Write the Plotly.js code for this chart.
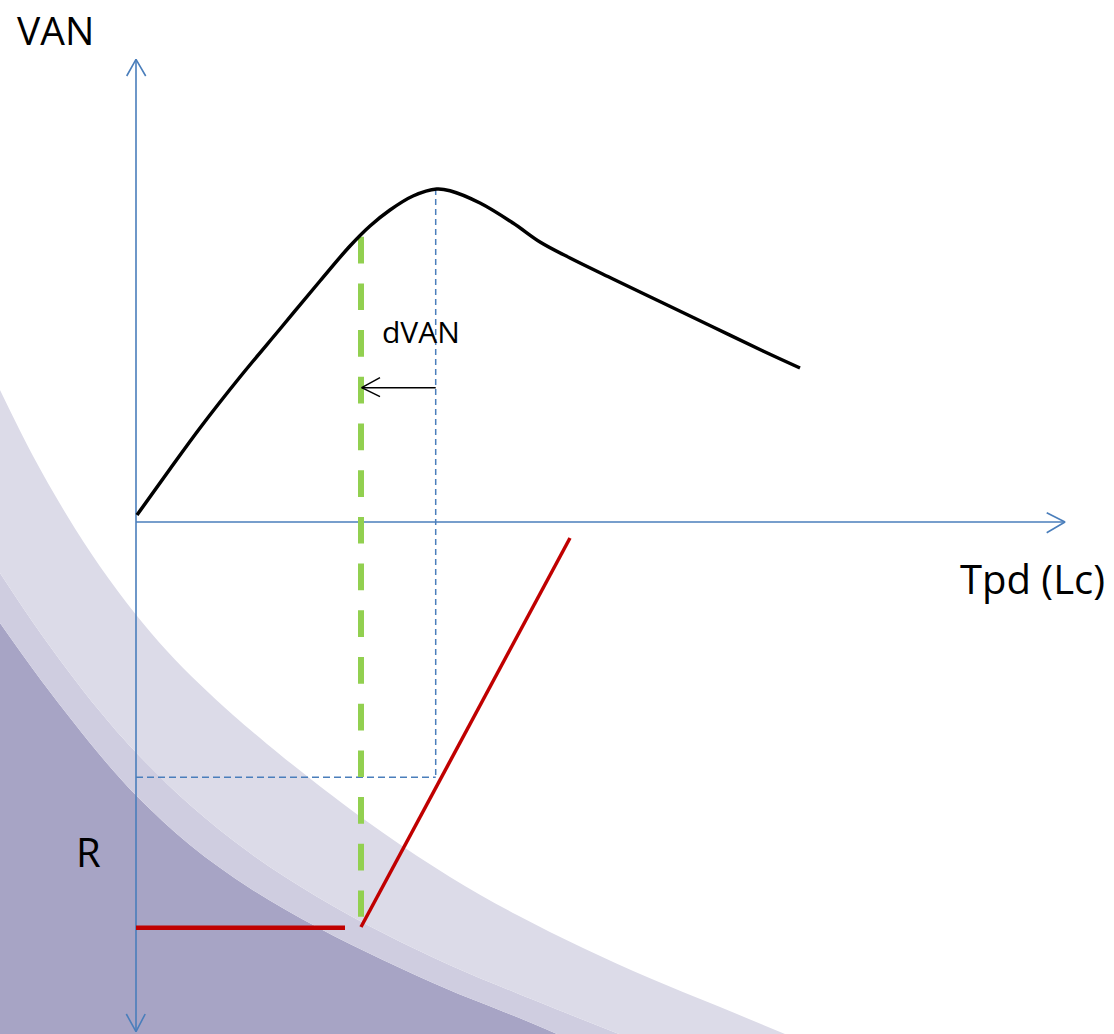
<!DOCTYPE html>
<html>
<head>
<meta charset="utf-8">
<script src="https://cdn.plot.ly/plotly-3.0.1.min.js"></script>
<style>
  html, body { margin: 0; padding: 0; background: #ffffff; }
  #chart { width: 1114px; height: 1034px; }
</style>
</head>
<body>
<div id="chart"></div>
<script>
// Coordinates: origin at the axes crossing, x = Tpd (Lc), y = VAN (up) / R (down)

// background bands (lower-left swoosh), outer edge of each band
const bandLightX = [-136, -103, -69, -36, -1, 31, 64, 97, 131, 181, 247, 314, 381, 447, 514, 581, 649];
const bandLightY = [132, 66, 6.5, -44.5, -91.5, -129, -162.6, -193, -221.9, -261.9, -310.7, -354.9, -393.1, -426.1, -456.3, -483.8, -512];
const bandMidX = [-136, -103, -69, -36, -3, 54, 114, 181, 247, 314, 381, 447, 483];
const bandMidY = [-51, -100.5, -147.4, -189.6, -227.2, -283.1, -331.1, -374.7, -411, -443.2, -471.3, -497.7, -512];
const bandDarkX = [-136, -103, -69, -39, 0, 54, 114, 181, 247, 314, 381, 421];
const bandDarkY = [-101, -147.2, -192.1, -229.6, -273.3, -323, -366.2, -405.1, -438.1, -468.3, -495.1, -512];
const bandBaseX = [-136, 978];
const bandBaseY = [-512, -512];

// VAN curve
const curveX = [1, 34, 64, 104, 144, 184, 214, 234, 254, 277, 300.7, 314, 344, 377, 404, 434, 477, 527, 577, 627, 664];
const curveY = [7, 53, 94, 145, 193, 241, 276, 296, 312, 326, 333, 331.3, 319, 299, 280, 264, 243, 219, 195, 171, 154];

// green dashed line (shifted optimum)
const greenX = [225, 225];
const greenY = [285.3, -394.7];

// blue guide lines from the optimum
const guideVX = [299.7, 299.7];
const guideVY = [333, -255.3];
const guideHX = [0, 299.7];
const guideHY = [-255.3, -255.3];

// dVAN arrow
const shiftX = [299.7, 225.7];
const shiftY = [134.3, 134.3];
const shiftHeadX = [244, 225.7, 244];
const shiftHeadY = [144.3, 134.3, 125.3];

// R lines
const redFlatX = [0, 209];
const redFlatY = [-405.7, -405.7];
const redSlopeX = [225, 434];
const redSlopeY = [-405, -16];

// axes and their arrow heads
const axisVX = [0, 0];
const axisVY = [462.7, -509.7];
const axisHX = [0, 929];
const axisHY = [0, 0];
const headTopX = [-9.3, 0, 9.7];
const headTopY = [446, 462.7, 446];
const headBotX = [-9.7, 0, 9.2];
const headBotY = [-492, -509.7, -492];
const headRightX = [910.7, 929, 910.7];
const headRightY = [9.3, 0, -10.7];

const axisColor = '#4a7ebb';

function band(x, y, color) {
    // fills down to the trace before it (base line, then the inner band)
    return {
        x: x, y: y, type: 'scatter', mode: 'lines', fill: 'tonexty',
        fillcolor: color, line: {width: 0, shape: 'spline', smoothing: 1},
        hoverinfo: 'skip'
    };
}

function seg(x, y, color, width, dash) {
    return {
        x: x, y: y, type: 'scatter', mode: 'lines',
        line: {color: color, width: width, dash: dash || 'solid'},
        hoverinfo: 'skip'
    };
}

const traces = [
    {x: bandBaseX, y: bandBaseY, type: 'scatter', mode: 'lines', line: {width: 0}, hoverinfo: 'skip'},
    band(bandDarkX, bandDarkY, '#a7a4c5'),
    band(bandMidX, bandMidY, '#cfcde0'),
    band(bandLightX, bandLightY, '#dcdbe8'),
    seg(axisVX, axisVY, axisColor, 1.6),
    seg(axisHX, axisHY, axisColor, 1.6),
    seg(headTopX, headTopY, axisColor, 1.6),
    seg(headBotX, headBotY, axisColor, 1.6),
    seg(headRightX, headRightY, axisColor, 1.6),
    seg(guideVX, guideVY, axisColor, 1.5, '6px,4px'),
    seg(guideHX, guideHY, axisColor, 1.5, '7px,4px'),
    seg(greenX, greenY, '#92d050', 6, '26.7px,20px'),
    seg(shiftX, shiftY, '#000000', 1.5),
    seg(shiftHeadX, shiftHeadY, '#000000', 1.5),
    seg(redFlatX, redFlatY, '#c00000', 4.5),
    seg(redSlopeX, redSlopeY, '#c00000', 3.5),
    {
        x: curveX, y: curveY, type: 'scatter', mode: 'lines',
        line: {color: '#000000', width: 3.5, shape: 'spline', smoothing: 1},
        hoverinfo: 'skip'
    }
];

const font = 'Open Sans, Noto Sans, sans-serif';

const layout = {
    width: 1114,
    height: 1034,
    margin: {t: 0, l: 0, r: 0, b: 0},
    paper_bgcolor: '#ffffff',
    plot_bgcolor: '#ffffff',
    showlegend: false,
    xaxis: {range: [-136, 978], visible: false, fixedrange: true},
    yaxis: {range: [-512, 522], visible: false, fixedrange: true},
    annotations: [
        {x: -81, y: 521, text: 'VAN', showarrow: false, xanchor: 'center', yanchor: 'top',
         font: {family: font, size: 39, color: '#000000'}},
        {x: 285, y: 191, text: 'dVAN', showarrow: false, xanchor: 'center', yanchor: 'middle',
         font: {family: font, size: 30, color: '#000000'}},
        {x: 896, y: -56.5, text: 'Tpd (Lc)', showarrow: false, xanchor: 'center', yanchor: 'middle',
         font: {family: font, size: 40, color: '#000000'}},
        {x: -48, y: -329, text: 'R', showarrow: false, xanchor: 'center', yanchor: 'middle',
         font: {family: font, size: 40, color: '#000000'}}
    ]
};

Plotly.newPlot('chart', traces, layout, {displayModeBar: false, staticPlot: true});
</script>
</body>
</html>
